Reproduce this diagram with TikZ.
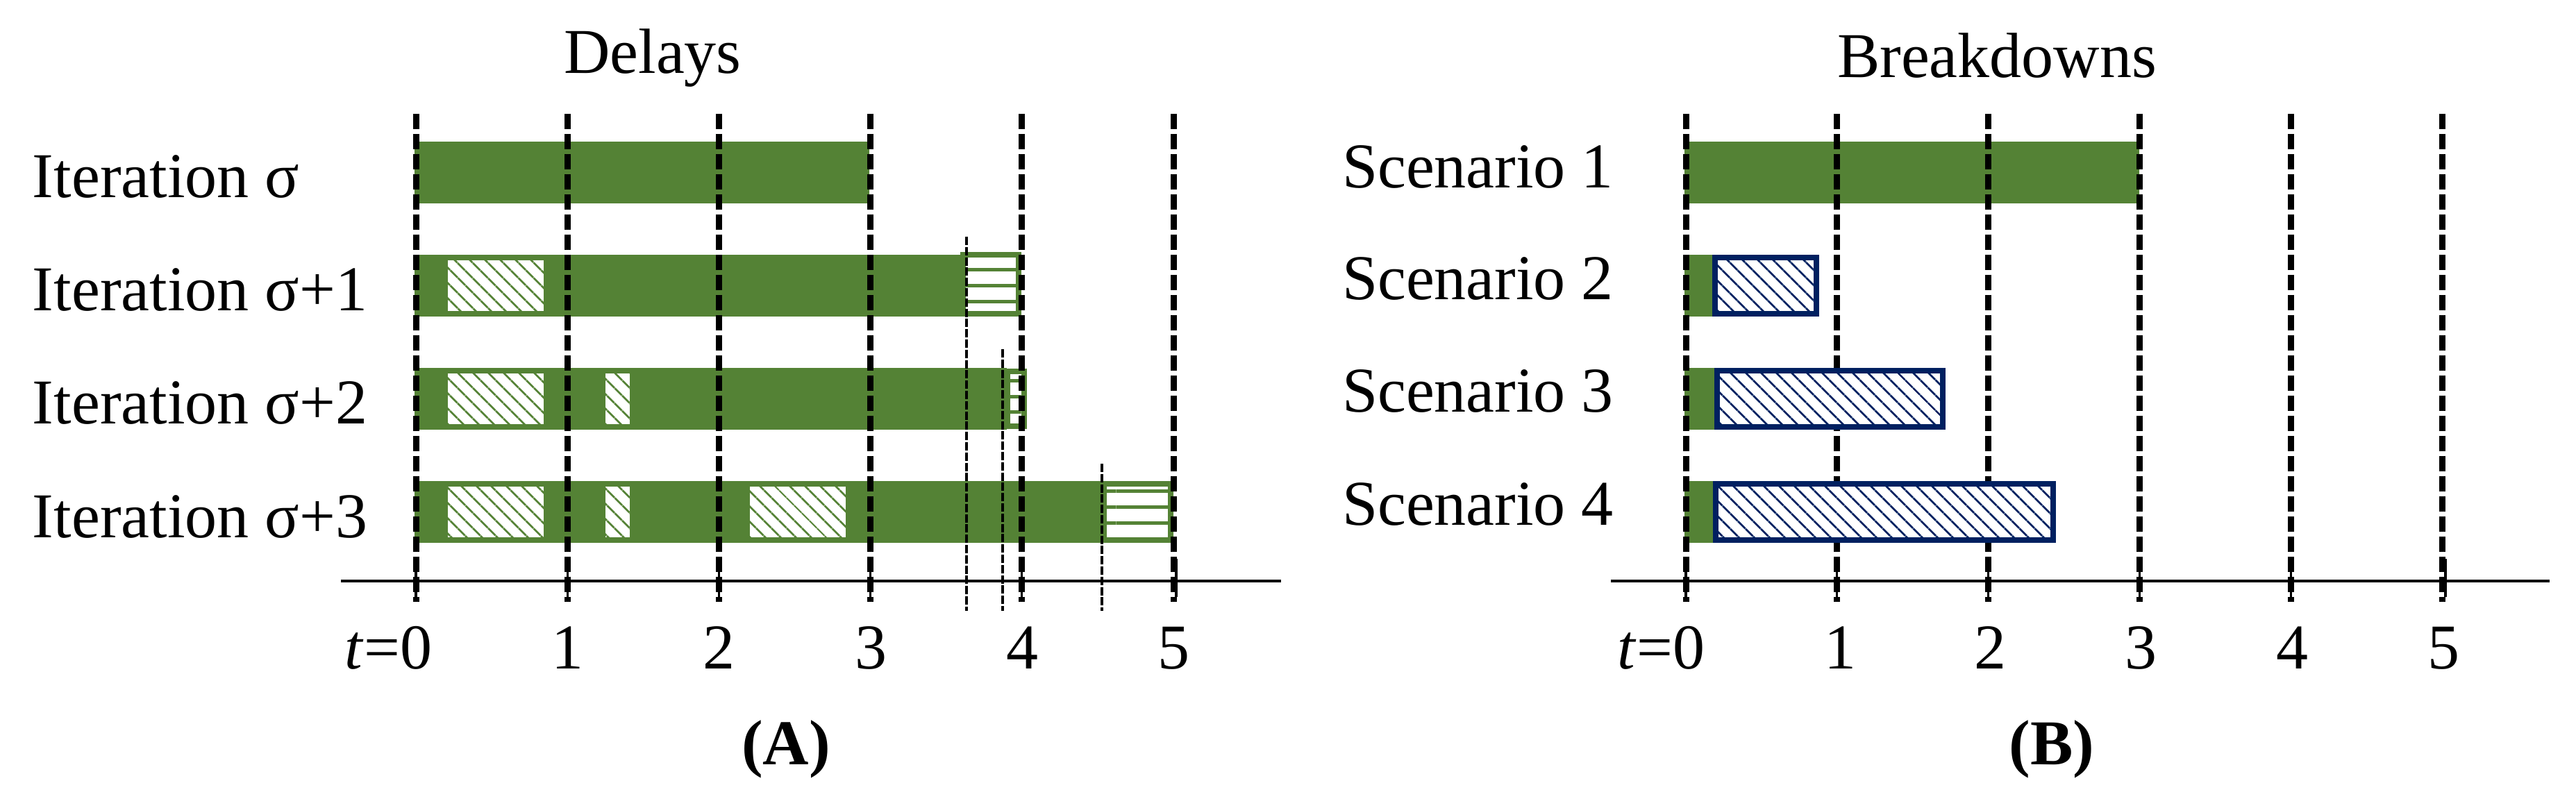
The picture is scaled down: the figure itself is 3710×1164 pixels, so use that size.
\documentclass[tikz,border=0pt]{standalone}
\usepackage{fontspec}
\setmainfont{Liberation Serif}
\usetikzlibrary{patterns.meta}
\definecolor{bargreen}{HTML}{548235}
\definecolor{navy}{HTML}{002060}
\begin{document}
\begin{tikzpicture}[x=0.25pt,y=-0.25pt,
  every node/.style={inner sep=0pt,outer sep=0pt,font=\fontsize{23pt}{27pt}\selectfont},
  gridline/.style={line width=2.25pt,dash pattern=on 5.5pt off 1.75pt},
  marker/.style={line width=1.2pt,dash pattern=on 3pt off 0.7pt},
  axisline/.style={line width=1pt},
  tickline/.style={line width=0.8pt},
  bar/.style={fill=bargreen},
  delaybox/.style={fill=white,postaction={pattern={Lines[angle=-45,distance=4pt,line width=0.75pt]},pattern color=bargreen}},
  extbox/.style={draw=bargreen,line width=2pt,fill=white,postaction={pattern={Lines[angle=0,distance=5.7pt,line width=1.25pt]},pattern color=bargreen}},
  breakbox/.style={draw=navy,line width=2pt,fill=white,postaction={pattern={Lines[angle=-45,distance=4pt,line width=0.75pt]},pattern color=navy}},
  lbl/.style={anchor=base west},
  title/.style={anchor=base},
  tick/.style={anchor=base}
]
\useasboundingbox (0,0) rectangle (3710,1164);

% ---------------- Panel A ----------------
\node[title] (tA) at (940,106) {Delays};
\node[lbl] (i0) at (47,285) {Iteration σ};
\node[lbl] (i1) at (47,448) {Iteration σ+1};
\node[lbl] (i2) at (47,611) {Iteration σ+2};
\node[lbl] (i3) at (47,774) {Iteration σ+3};

% green bars
\fill[bar] (597,204) rectangle (1252,293);
\fill[bar] (597,367) rectangle (1392,456);
\fill[bar] (597,530) rectangle (1450,619);
\fill[bar] (597,693) rectangle (1592,782);

% delay boxes
\path[delaybox] (645,375) rectangle (783,448);
\path[delaybox] (645,538) rectangle (783,611);
\path[delaybox] (872,538) rectangle (907,611);
\path[delaybox] (645,701) rectangle (783,774);
\path[delaybox] (872,701) rectangle (907,774);
\path[delaybox] (1080,701) rectangle (1218,774);

% extension boxes
\path[extbox] (1387,367) rectangle (1467,452);
\path[extbox] (1451,535) rectangle (1475,614);
\path[extbox] (1590,697) rectangle (1686,778);

% axis
\draw[axisline] (491,837) -- (1845,837);
\foreach \t in {0,...,4} \draw[tickline] ({599+218.2*\t},805) -- ({599+218.2*\t},860);
\draw[tickline] (1694,805) -- (1694,860);
% grid
\foreach \t in {0,...,5} \draw[gridline] ({599+218.2*\t},164) -- ({599+218.2*\t},867);
% end markers
\draw[marker] (1392,341) -- (1392,880);
\draw[marker] (1444,503) -- (1444,880);
\draw[marker] (1587,668) -- (1587,880);

% tick labels
\node[tick] (a0) at (599,963) {0};
\node[anchor=base east] (at) at (a0.base west) {\textit{t}=};
\node[tick] (a1) at (817,963) {1};
\node[tick] (a2) at (1035,963) {2};
\node[tick] (a3) at (1254,963) {3};
\node[tick] (a4) at (1472,963) {4};
\node[tick] (a5) at (1690,963) {5};
\node[title] (capA) at (1132,1101) {\textbf{(A)}};

% ---------------- Panel B ----------------
\node[title] (tB) at (2876,112) {Breakdowns};
\node[lbl] (s1) at (1933,271) {Scenario 1};
\node[lbl] (s2) at (1933,432) {Scenario 2};
\node[lbl] (s3) at (1933,594) {Scenario 3};
\node[lbl] (s4) at (1933,756) {Scenario 4};

\fill[bar] (2426,204) rectangle (3081,293);
\fill[bar] (2426,367) rectangle (2470,456);
\fill[bar] (2426,530) rectangle (2473,619);
\fill[bar] (2426,693) rectangle (2471,782);

\draw[axisline] (2320,837) -- (3672,837);
\foreach \t in {0,...,4} \draw[tickline] ({2428+217.8*\t},805) -- ({2428+217.8*\t},860);
\draw[tickline] (3522,805) -- (3522,860);
\foreach \t in {0,...,5} \draw[gridline] ({2428+217.8*\t},164) -- ({2428+217.8*\t},867);

\path[breakbox] (2470,371) rectangle (2616,452);
\path[breakbox] (2473,534) rectangle (2798,615);
\path[breakbox] (2471,697) rectangle (2957,778);

\node[tick] (b0) at (2432,963) {0};
\node[anchor=base east] (bt) at (b0.base west) {\textit{t}=};
\node[tick] (b1) at (2650,963) {1};
\node[tick] (b2) at (2866,963) {2};
\node[tick] (b3) at (3083,963) {3};
\node[tick] (b4) at (3301,963) {4};
\node[tick] (b5) at (3519,963) {5};
\node[title] (capB) at (2955,1101) {\textbf{(B)}};
\end{tikzpicture}
\end{document}
